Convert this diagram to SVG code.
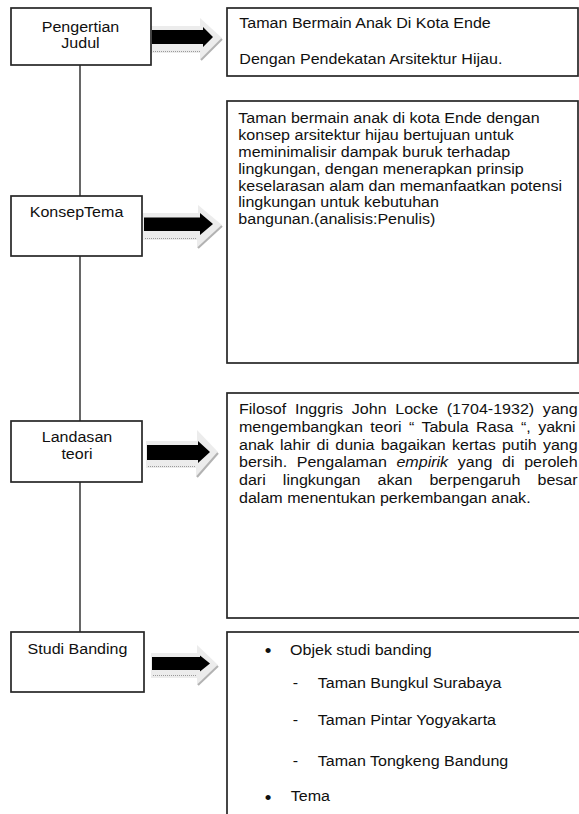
<svg xmlns="http://www.w3.org/2000/svg" width="579" height="814" viewBox="0 0 579 814">
<style>
.box{fill:#fff;stroke:#262626;stroke-width:1.7}
.t{font-family:"Liberation Sans",Arial,"Noto Sans",sans-serif;font-size:14.6px;fill:#101010}
.c{text-anchor:middle}
.conn{stroke:#262626;stroke-width:1.4;fill:none}
.ab{fill:#000}
.sh{fill:#ececec}
.she{stroke:#b2b2b2;stroke-width:2;fill:none}
.shd{stroke:#9a9a9a;stroke-width:1.2;stroke-dasharray:1 1;fill:none}
.bul{font-family:"Liberation Sans",Arial,sans-serif;font-size:19px;fill:#101010;text-anchor:middle}
</style>
<rect width="579" height="814" fill="#fff"/>
<g id="connectors">
  <line class="conn" x1="80" y1="65" x2="80" y2="632"/>
  <g id="arrow-judul">
    <polygon class="sh" points="151,26 200,26 200,18 222,38 200,60 200,53 151,53"/>
    <line class="she" x1="222" y1="39" x2="201" y2="60"/>
    <line class="shd" x1="153" y1="51.5" x2="200" y2="51.5"/>
    <polygon class="ab" points="152,30 203,30 203,27 213,37 203,47 203,44 152,44"/>
  </g>
  <g id="arrow-konsep">
    <polygon class="sh" points="143,213 198,213 198,205 222,225 197,248 197,240 143,240"/>
    <line class="she" x1="222" y1="226" x2="198" y2="248"/>
    <line class="shd" x1="145" y1="238.5" x2="197" y2="238.5"/>
    <polygon class="ab" points="144,217.5 200,217.5 200,213 213,224 200,235 200,231 144,231"/>
  </g>
  <g id="arrow-landasan">
    <polygon class="sh" points="146,441 197,441 197,430 218,452 196,477 196,468 146,468"/>
    <line class="she" x1="218" y1="453" x2="197" y2="477"/>
    <line class="shd" x1="148" y1="466.5" x2="196" y2="466.5"/>
    <polygon class="ab" points="147,445 198,445 198,441 210,452 198,463 198,460 147,460"/>
  </g>
  <g id="arrow-studi">
    <polygon class="sh" points="151,653 197,653 197,645 218,665 197,685 197,678 151,678"/>
    <line class="she" x1="218" y1="666" x2="198" y2="685"/>
    <line class="shd" x1="153" y1="675.5" x2="197" y2="675.5"/>
    <polygon class="ab" points="152,657 200,657 200,655.5 210,663.5 200,671.5 200,670 152,670"/>
  </g>
</g>
<g id="node-pengertian">
  <rect class="box" x="11" y="8" width="140" height="57"/>
  <text class="t c" transform="translate(80.5,31.7) scale(1.1,1)">Pengertian</text>
  <text class="t c" transform="translate(80.5,48.3) scale(1.1,1)">Judul</text>
</g>
<g id="node-konsep">
  <rect class="box" x="11" y="196" width="131" height="60"/>
  <text class="t c" transform="translate(76.5,217.3) scale(1.1,1)">KonsepTema</text>
</g>
<g id="node-landasan">
  <rect class="box" x="11" y="421" width="131" height="61"/>
  <text class="t c" transform="translate(77,441.7) scale(1.1,1)">Landasan</text>
  <text class="t c" transform="translate(77,459) scale(1.1,1)">teori</text>
</g>
<g id="node-studi">
  <rect class="box" x="11" y="632" width="133" height="60"/>
  <text class="t c" transform="translate(77.5,654) scale(1.1,1)">Studi Banding</text>
</g>
<g id="node-judul-isi">
  <rect class="box" x="227" y="8" width="351" height="68"/>
  <text class="t" transform="translate(239.3,28) scale(1.1,1)">Taman Bermain Anak Di Kota Ende</text>
  <text class="t" transform="translate(239.3,64) scale(1.1,1)">Dengan Pendekatan Arsitektur Hijau.</text>
</g>
<g id="node-konsep-isi">
  <rect class="box" x="227" y="101" width="351" height="262"/>
  <text class="t" transform="translate(238.3,123.3) scale(1.1,1)">Taman bermain anak di kota Ende dengan</text>
  <text class="t" transform="translate(238.3,140.1) scale(1.1,1)">konsep arsitektur hijau bertujuan untuk</text>
  <text class="t" transform="translate(238.3,156.9) scale(1.1,1)">meminimalisir dampak buruk terhadap</text>
  <text class="t" transform="translate(238.3,173.7) scale(1.1,1)">lingkungan, dengan menerapkan prinsip</text>
  <text class="t" transform="translate(238.3,190.5) scale(1.1,1)">keselarasan alam dan memanfaatkan potensi</text>
  <text class="t" transform="translate(238.3,207.3) scale(1.1,1)">lingkungan untuk kebutuhan</text>
  <text class="t" transform="translate(238.3,224.1) scale(1.1,1)">bangunan.(analisis:Penulis)</text>
</g>
<g id="node-landasan-isi">
  <rect class="box" x="227" y="393" width="380" height="225"/>
  <text class="t" transform="translate(239,414) scale(1.1,1)" word-spacing="3.86">Filosof Inggris John Locke (1704-1932) yang</text>
  <text class="t" transform="translate(239,431.8) scale(1.1,1)" word-spacing="2.68">mengembangkan teori “ Tabula Rasa “, yakni</text>
  <text class="t" transform="translate(239,449.6) scale(1.1,1)" word-spacing="1.6">anak lahir di dunia bagaikan kertas putih yang</text>
  <text class="t" transform="translate(239,467.4) scale(1.1,1)" word-spacing="4.68">bersih. Pengalaman <tspan font-style="italic">empirik</tspan> yang di peroleh</text>
  <text class="t" transform="translate(239,485.2) scale(1.1,1)" word-spacing="11.5">dari lingkungan akan berpengaruh besar</text>
  <text class="t" transform="translate(239,503) scale(1.1,1)">dalam menentukan perkembangan anak.</text>
</g>
<g id="node-studi-isi">
  <rect class="box" x="227" y="632" width="380" height="200"/>
  <text class="bul" x="268" y="657">•</text>
  <text class="t" transform="translate(290,655) scale(1.1,1)">Objek studi banding</text>
  <text class="t" transform="translate(292.7,688) scale(1.1,1)">-</text>
  <text class="t" transform="translate(317.7,688) scale(1.1,1)">Taman Bungkul Surabaya</text>
  <text class="t" transform="translate(292.7,725) scale(1.1,1)">-</text>
  <text class="t" transform="translate(317.7,725) scale(1.1,1)">Taman Pintar Yogyakarta</text>
  <text class="t" transform="translate(292.7,766) scale(1.1,1)">-</text>
  <text class="t" transform="translate(317.7,766) scale(1.1,1)">Taman Tongkeng Bandung</text>
  <text class="bul" x="268" y="803.5">•</text>
  <text class="t" transform="translate(290.7,800.5) scale(1.1,1)">Tema</text>
</g>
</svg>
